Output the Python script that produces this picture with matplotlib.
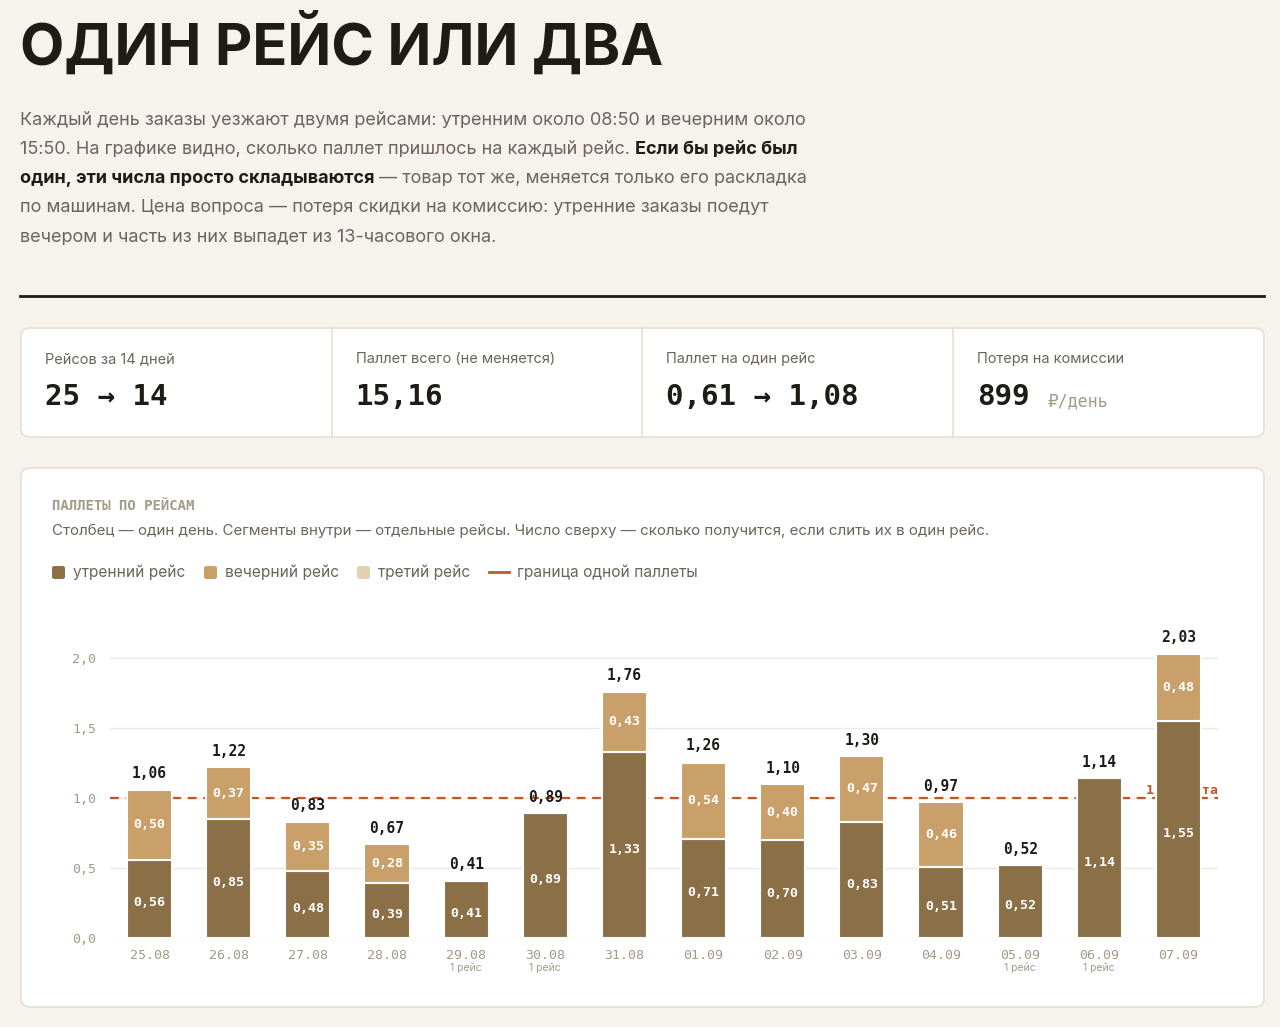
import matplotlib.pyplot as plt
from matplotlib.patches import FancyBboxPatch

W, H = 1280, 1027

days = ["25.08", "26.08", "27.08", "28.08", "29.08", "30.08", "31.08",
        "01.09", "02.09", "03.09", "04.09", "05.09", "06.09", "07.09"]
morning = [0.56, 0.85, 0.48, 0.39, 0.41, 0.89, 1.33, 0.71, 0.70, 0.83, 0.51, 0.52, 1.14, 1.55]
evening = [0.50, 0.37, 0.35, 0.28, 0, 0, 0.43, 0.54, 0.40, 0.47, 0.46, 0, 0, 0.48]
totals = [1.06, 1.22, 0.83, 0.67, 0.41, 0.89, 1.76, 1.26, 1.10, 1.30, 0.97, 0.52, 1.14, 2.03]
one_trip = ["", "", "", "", "1 рейс", "1 рейс", "", "", "", "", "", "1 рейс", "1 рейс", ""]

kpi_labels = ["Рейсов за 14 дней", "Паллет всего (не меняется)", "Паллет на один рейс", "Потеря на комиссии"]
kpi_values = ["25 → 14", "15,16", "0,61 → 1,08", "899"]

BG = "#f6f3ec"
C_M = "#8b6f47"
C_E = "#c9a06a"
C_T = "#e2d2b3"
C_LINE = "#c0562a"
DARK = "#1f1c17"
GREY = "#6b655b"
SANS = ["Inter", "DejaVu Sans"]
MONO = ["DejaVu Sans Mono", "DejaVu Sans", "Noto Sans", "Roboto"]

fig = plt.figure(figsize=(W / 100, H / 100), dpi=100)
fig.patch.set_facecolor(BG)


def fx(x):
    return x / W


def fy(y):
    return 1 - y / H


def txt(x, y, s, **kw):
    fig.text(fx(x), fy(y), s, **kw)


txt(20, 45, "ОДИН РЕЙС ИЛИ ДВА", fontsize=41.5, fontweight="bold", color=DARK,
    family=SANS, va="center")

para = [
    ("Каждый день заказы уезжают двумя рейсами: утренним около 08:50 и вечерним около", None),
    ("15:50. На графике видно, сколько паллет пришлось на каждый рейс. ", "Если бы рейс был"),
    ("", "один, эти числа просто складываются"),
    ("по машинам. Цена вопроса — потеря скидки на комиссию: утренние заказы поедут", None),
    ("вечером и часть из них выпадет из 13-часового окна.", None),
]
r = fig.canvas.get_renderer()
for i, (a, b) in enumerate(para):
    y = 120 + i * 29.3
    x = 20
    if a:
        t = fig.text(fx(x), fy(y), a, fontsize=13.0, color=GREY, family=SANS, va="center")
        x += t.get_window_extent(r).width
    if b:
        t = fig.text(fx(x), fy(y), b, fontsize=13.0, color=DARK, family=SANS,
                     fontweight="bold", va="center")
        x += t.get_window_extent(r).width
        if i == 2:
            fig.text(fx(x), fy(y), " — товар тот же, меняется только его раскладка",
                     fontsize=13.0, color=GREY, family=SANS, va="center")

fig.add_artist(plt.Line2D([fx(20), fx(1264)], [fy(296), fy(296)], color=DARK, lw=2))


def card(x0, y0, x1, y1):
    p = FancyBboxPatch((fx(x0), fy(y1)), fx(x1 - x0), (y1 - y0) / H,
                       boxstyle="round,pad=0,rounding_size=0.008",
                       transform=fig.transFigure, facecolor="white",
                       edgecolor="#e6e0d3", lw=1.2, zorder=0)
    fig.add_artist(p)


card(21, 328, 1264, 437)
for i in range(1, 4):
    xs = 21 + i * 310.7
    fig.add_artist(plt.Line2D([fx(xs), fx(xs)], [fy(328), fy(437)], color="#e6e0d3", lw=1.2))
for i in range(4):
    x0 = 45 + i * 310.7
    txt(x0, 359, kpi_labels[i], fontsize=10.5, color=GREY, family=SANS, va="center")
    t = fig.text(fx(x0), fy(397), kpi_values[i], fontsize=21, color=DARK, family=MONO,
                 fontweight="bold", va="center")
    if i == 3:
        x = x0 + t.get_window_extent(r).width + 18
        txt(x, 401, "₽/день", fontsize=12, color="#a39a88", family=MONO, va="center")

card(21, 468, 1264, 1007)
txt(52, 506, "ПАЛЛЕТЫ ПО РЕЙСАМ", fontsize=10, color="#a39a88", family=MONO,
    fontweight="bold", va="center")
txt(52, 531, "Столбец — один день. Сегменты внутри — отдельные рейсы. Число сверху — сколько получится, если слить их в один рейс.",
    fontsize=10.9, color=GREY, family=SANS, va="center")

legend = [(C_M, "утренний рейс", 52), (C_E, "вечерний рейс", 204), (C_T, "третий рейс", 357)]
for c, s, x in legend:
    fig.add_artist(FancyBboxPatch((fx(x), fy(579)), fx(13), 13 / H,
                                  boxstyle="round,pad=0,rounding_size=0.002",
                                  transform=fig.transFigure, facecolor=c, edgecolor="none"))
    txt(x + 21, 572, s, fontsize=11.2, color=GREY, family=SANS, va="center")
fig.add_artist(plt.Line2D([fx(489), fx(509)], [fy(572), fy(572)], color=C_LINE, lw=2))
txt(517, 572, "граница одной паллеты", fontsize=11.2, color=GREY, family=SANS, va="center")

# chart
ax = fig.add_axes([fx(110), fy(938), fx(1218 - 110), (938 - 630) / H])
ax.set_facecolor("white")
ax.set_xlim(-0.5, 13.5)
ax.set_ylim(0, 2.2)
for s in ax.spines.values():
    s.set_visible(False)
ax.set_yticks([0, 0.5, 1.0, 1.5, 2.0])
ax.set_yticklabels(["0,0", "0,5", "1,0", "1,5", "2,0"], family=MONO, fontsize=9.5, color="#a39a88")
ax.tick_params(length=0, pad=10)
ax.yaxis.grid(True, color="#eeeae1", lw=1)
ax.set_axisbelow(True)
ax.set_xticks(range(len(days)))
ax.set_xticklabels(days, family=MONO, fontsize=9.5, color="#a39a88")
ax.tick_params(axis="x", pad=8)

ax.axhline(1.0, color=C_LINE, lw=1.6, ls=(0, (4, 3)), zorder=1)
ax.text(13.5, 1.05, "1 паллета", ha="right", va="center", family=MONO, fontsize=9.5,
        color=C_LINE, fontweight="bold", zorder=1)

xs = list(range(len(days)))
ax.bar(xs, morning, width=0.57, color=C_M, edgecolor="white", lw=1.5, zorder=2)
ax.bar(xs, evening, width=0.57, bottom=morning, color=C_E, edgecolor="white", lw=1.5, zorder=2)

for i in xs:
    ax.text(i, morning[i] / 2 - 0.03, f"{morning[i]:.2f}".replace(".", ","), ha="center",
            va="center", color="white", family=MONO, fontsize=9.5, fontweight="bold", zorder=3)
    if evening[i]:
        ax.text(i, morning[i] + evening[i] / 2, f"{evening[i]:.2f}".replace(".", ","),
                ha="center", va="center", color="white", family=MONO, fontsize=9.5,
                fontweight="bold", zorder=3)
    ax.text(i, totals[i] + 0.06, f"{totals[i]:.2f}".replace(".", ","), ha="center",
            va="bottom", color=DARK, family=MONO, fontsize=10.5, fontweight="bold", zorder=3)
    if one_trip[i]:
        ax.text(i, -0.21, one_trip[i], ha="center", va="center", color="#a39a88",
                family=SANS, fontsize=7.5)

fig.savefig("out.png", dpi=100, facecolor=BG)
